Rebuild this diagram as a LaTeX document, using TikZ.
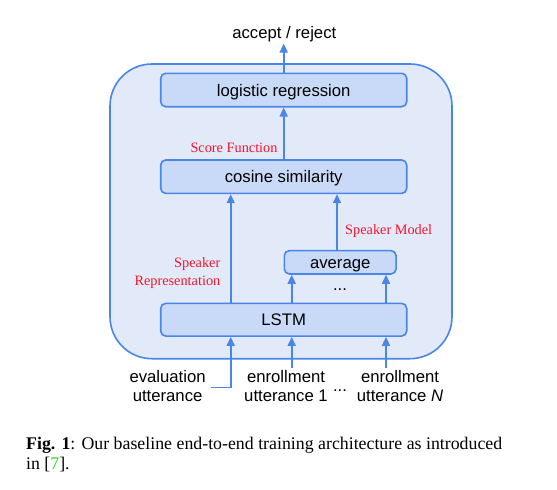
\documentclass[tikz,border=0pt]{standalone}
\usepackage{fontspec}
\setmainfont{Liberation Serif}
\setsansfont{Liberation Sans}
\usetikzlibrary{arrows.meta}
\definecolor{bline}{HTML}{4A86E8}
\definecolor{bfill}{HTML}{C9DAF8}
\definecolor{ofill}{HTML}{E2E9F9}
\definecolor{lblred}{HTML}{F5142D}
\definecolor{citegreen}{HTML}{22E022}
\begin{document}
\begin{tikzpicture}[x=1pt,y=-1pt,
  box/.style={draw=bline, fill=bfill, line width=1.6pt, rounded corners=5pt, inner sep=0pt,
    font=\sffamily\fontsize{16.7}{19}\selectfont, text height=12pt, text depth=0pt},
  arr/.style={draw=bline, line width=1.6pt, -{Triangle[width=8pt,length=9pt]}},
  lbl/.style={text=lblred, font=\rmfamily\fontsize{14.3}{17.3}\selectfont, inner sep=0pt},
  txt/.style={font=\sffamily\fontsize{16.7}{19}\selectfont, inner sep=0pt, align=center}]
\useasboundingbox (0,0) rectangle (557,490);
\fill[white] (0,0) rectangle (557,490);
\node[draw=bline, fill=ofill, line width=1.6pt, rounded corners=42pt, inner sep=0pt,
  minimum width=342pt, minimum height=294.7pt] (outer) at (281,211.35) {};
\node[box, minimum width=246pt, minimum height=33.4pt] (logreg) at (283.7,90) {logistic regression};
\node[box, minimum width=246pt, minimum height=33.4pt] (cosine) at (283.7,176.7) {cosine similarity};
\node[box, minimum width=111.7pt, minimum height=23.3pt] (avg) at (340.2,262.3) {average};
\node[box, minimum width=246pt, minimum height=32.7pt] (lstm) at (283.7,319.7) {LSTM};
\node[txt, anchor=base] (accept) at (284.3,38.3) {accept / reject};
\node[lbl, anchor=base east] (score) at (277.7,152.3) {Score Function};
\node[lbl, anchor=base west] (spkmodel) at (345,234.3) {Speaker Model};
\node[lbl, anchor=east, align=right] (spkrep) at (220.5,273) {Speaker\\Representation};
\node[txt, anchor=base] (dotsa) at (340,290.5) {...};
\node[txt, anchor=base] (dotsb) at (340,391) {...};
\node[txt] (eval) at (167.6,386.2) {evaluation\\utterance};
\node[txt] (enr1) at (286,386.2) {enrollment\\utterance 1};
\node[txt] (enrN) at (400,386.2) {enrollment\\utterance \textit{N}};
\coordinate (acc) at (283.7,43.5);
\coordinate (xa) at (230.7,0);
\coordinate (xb) at (337,0);
\coordinate (xc) at (291.7,0);
\coordinate (xd) at (386,0);
\coordinate (evin) at (211,387.3);
\coordinate (eonein) at (291.7,368);
\coordinate (enin) at (386,368);
\draw[arr] (logreg.north) -- (acc);
\draw[arr] (cosine.north) -- (logreg.south);
\draw[arr] (lstm.north -| xa) -- (cosine.south -| xa);
\draw[arr] (avg.north -| xb) -- (cosine.south -| xb);
\draw[arr] (lstm.north -| xc) -- (avg.south -| xc);
\draw[arr] (lstm.north -| xd) -- (avg.south -| xd);
\draw[arr] (evin) -| (lstm.south -| xa);
\draw[arr] (eonein) -- (lstm.south -| xc);
\draw[arr] (enin) -- (lstm.south -| xd);
\node[anchor=north west, inner sep=0pt, text width=476pt, align=justify,
  font=\rmfamily\fontsize{17.8}{19.7}\selectfont] (caption) at (26,437.1)
  {\textbf{Fig. 1}: Our baseline end-to-end training architecture as introduced\linebreak in [{\color{citegreen}7}].};
\end{tikzpicture}
\end{document}
